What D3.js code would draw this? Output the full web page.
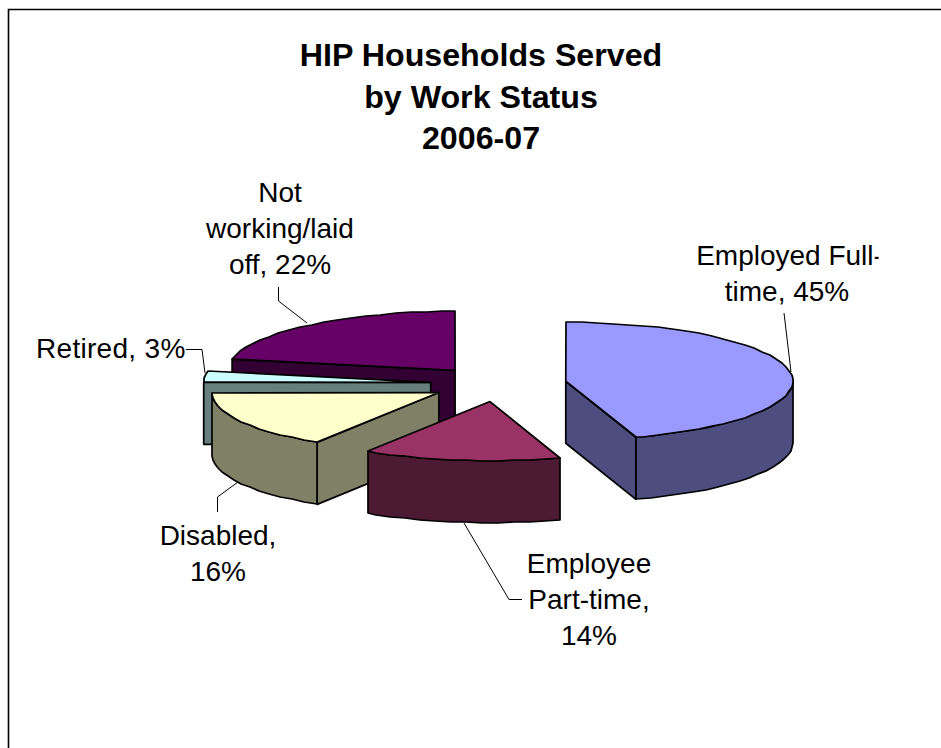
<!DOCTYPE html>
<html>
<head>
<meta charset="utf-8">
<title>HIP Households Served by Work Status</title>
<script src="https://cdn.jsdelivr.net/npm/d3@7"></script>
<style>
  html, body { margin: 0; padding: 0; background: #fff; }
  svg { display: block; font-family: "Liberation Sans", Arial, sans-serif; }
</style>
</head>
<body>
<script>
// Work status shares of households served, 2006-07
const categories = ["Employed Full-time", "Employee Part-time", "Disabled", "Retired", "Not working/laid off"];
const shares = [45, 14, 16, 3, 22];
const titleLines = ["HIP Households Served", "by Work Status", "2006-07"];

const topColors = ["#9999FF", "#993366", "#FFFFCC", "#CCFFFF", "#660066"];
const sideColors = ["#4D4D80", "#4D1A33", "#808066", "#668080", "#330033"];

// Wrapped label text, one entry per category
const labelLines = [
  ["Employed Full-", "time, 45%"],
  ["Employee", "Part-time,", "14%"],
  ["Disabled,", "16%"],
  ["Retired, 3%"],
  ["Not", "working/laid", "off, 22%"]
];

const width = 941, height = 748;
const pieCenter = { x: 498.5, y: 384 };
const radiusX = 227, radiusY = 59, depth = 62, explosion = 0.3;
const arcStep = Math.PI / 45;

// Label placement: anchor x per line, first baseline, tracking, leader polyline
const labelPlacement = [
  { x: [789.5, 787], y: 265, anchor: "middle", track: 0, leader: [[784, 313], [791, 372]] },
  { x: [589, 589, 589], y: 573, anchor: "middle", track: 0, leader: [[522, 599.5], [509, 599.5], [464, 523]] },
  { x: [218, 218], y: 545, anchor: "middle", track: 0, leader: [[217.5, 512], [217.5, 497], [238, 482]] },
  { x: [36], y: 358, anchor: "start", track: 0.3, leader: [[186, 349.5], [202, 349.5], [205, 373]] },
  { x: [280, 280, 280], y: 202, anchor: "middle", track: 0, leader: [[278.5, 287], [278.5, 301], [307, 323]] }
];

const svg = d3.select("body").append("svg")
  .attr("width", width).attr("height", height).attr("viewBox", [0, 0, width, height]);

svg.append("rect").attr("width", width).attr("height", height).attr("fill", "#fff");

// Chart area frame: only the top and left edges fall inside the page
svg.append("path")
  .attr("d", `M8.5,${height}V9.5H${width}`)
  .attr("fill", "none").attr("stroke", "#000").attr("stroke-width", 1.6);

// Title
svg.append("g").attr("text-anchor", "middle").attr("font-weight", "bold").attr("font-size", 32.2)
  .selectAll("text").data(titleLines).join("text")
  .attr("x", 481).attr("y", (d, i) => 66 + i * 41.5).text(d => d);

// Pie layout, clockwise from twelve o'clock
const slices = d3.pie().sort(null).value(d => d)(shares)
  .map((s, i) => ({ ...s, index: i }));

// Flattened ellipse projection of a polar position on the pie plane
const project = (o, angle, r = 1) => [
  o.x + r * radiusX * Math.sin(angle),
  o.y - r * radiusY * Math.cos(angle)
];
const origin = s => {
  const mid = (s.startAngle + s.endAngle) / 2;
  const [x, y] = project(pieCenter, mid, explosion);
  return { x, y };
};
const down = ([x, y]) => [x, y + depth];
const polygon = d3.line().curve(d3.curveLinear);

// Rim points of an angular range, snapped to whole pixels
const rim = (o, a0, a1) => {
  const pts = d3.range(a0, a1, arcStep).concat([a1]).map(a => project(o, a));
  return pts.map(([x, y]) => [Math.round(x), Math.round(y)]);
};

const sliceGroups = svg.append("g").attr("stroke", "#000").attr("stroke-width", 1.7)
  .attr("stroke-linejoin", "round")
  .selectAll("g").data(slices.slice().reverse()).join("g");

sliceGroups.each(function (s) {
  const g = d3.select(this);
  const o = origin(s);
  const apex = [o.x, o.y];
  const side = sideColors[s.index], top = topColors[s.index];
  const face = pts => g.append("path").attr("d", polygon(pts) + "Z").attr("fill", side);

  // Cut faces that turn toward the viewer
  if (Math.sin(s.startAngle) < -1e-6) {
    const p = project(o, s.startAngle);
    face([apex, p, down(p), down(apex)]);
  }
  if (Math.sin(s.endAngle) > 1e-6) {
    const p = project(o, s.endAngle);
    face([apex, p, down(p), down(apex)]);
  }

  // Curved wall along the front half of the rim
  const a0 = Math.max(s.startAngle, Math.PI / 2);
  const a1 = Math.min(s.endAngle, 3 * Math.PI / 2);
  if (a1 > a0) {
    const r = rim(o, a0, a1);
    face(r.concat(r.slice().reverse().map(down)));
  }

  // Top face
  g.append("path")
    .attr("d", polygon([apex].concat(rim(o, s.startAngle, s.endAngle))) + "Z")
    .attr("fill", top);
});

// The first line of the full-time label is cut off at its text box
svg.append("clipPath").attr("id", "label-box")
  .append("rect").attr("x", 0).attr("y", 0).attr("width", 878.6).attr("height", height);

const labels = svg.append("g").attr("font-size", 28).attr("fill", "#000");
categories.forEach((name, i) => {
  const place = labelPlacement[i];
  labels.append("g").attr("clip-path", "url(#label-box)")
    .attr("text-anchor", place.anchor)
    .attr("letter-spacing", place.track)
    .selectAll("text").data(labelLines[i]).join("text")
    .attr("x", (d, j) => place.x[j]).attr("y", (d, j) => place.y + j * 36).text(d => d);
  labels.append("path")
    .attr("d", polygon(place.leader))
    .attr("fill", "none").attr("stroke", "#000").attr("stroke-width", 1);
});
</script>
</body>
</html>
